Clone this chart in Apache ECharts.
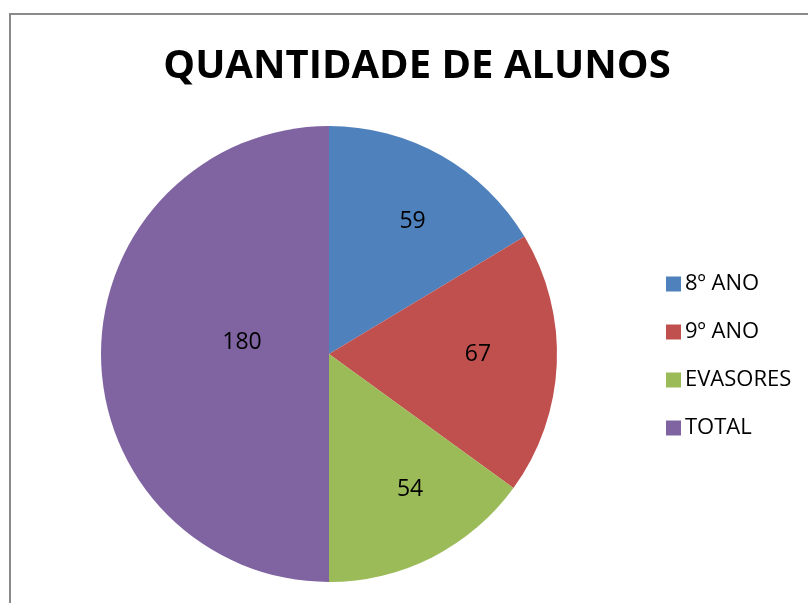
<!DOCTYPE html>
<html style="height: 100%">
<head>
    <meta charset="utf-8">
    <title>Quantidade de alunos</title>
    <style>
    body { margin: 0; background: #fff; }
    #container { width: 808px; height: 603px; }
    </style>
</head>
<body>
    <div id="container"></div>
    <script type="text/javascript" src="https://cdn.jsdelivr.net/npm/echarts@6/dist/echarts.min.js"></script>
    <script type="text/javascript">
    // dados
    var categorias = ['8º ANO', '9º ANO', 'EVASORES', 'TOTAL'];
    var valores = [59, 67, 54, 180];
    var cores = ['#4F81BD', '#C0504D', '#9BBB59', '#8064A2'];
    // deslocamento dos rotulos (estilo tipo Excel)
    var deslocRotulo = [[26, -31], [32, -5], [28, 31], [30, -12]];

    var dados = categorias.map(function (c, i) {
        return {
            name: c,
            value: valores[i],
            itemStyle: { color: cores[i] },
            label: { offset: deslocRotulo[i] }
        };
    });

    var myChart = echarts.init(document.getElementById('container'));
    var option = {
        animation: false,
        backgroundColor: '#fff',
        title: {
            text: 'QUANTIDADE DE ALUNOS',
            left: 412,
            textAlign: 'center',
            top: 42,
            textStyle: {
                fontFamily: 'Open Sans',
                fontWeight: 'bold',
                fontSize: 40,
                color: '#000'
            }
        },
        legend: {
            orient: 'vertical',
            left: 661,
            top: 268,
            itemWidth: 15,
            itemHeight: 15,
            itemGap: 26,
            icon: 'rect',
            textStyle: {
                fontFamily: 'Open Sans',
                fontSize: 22,
                color: '#000',
                padding: [0, 0, 0, -1]
            },
            data: categorias
        },
        graphic: [{
            type: 'rect',
            shape: { x: 10, y: 14, width: 810, height: 600 },
            style: { fill: 'none', stroke: '#8a8a8a', lineWidth: 2 },
            silent: true
        }],
        series: [{
            type: 'pie',
            center: [329, 354],
            radius: 228,
            startAngle: 90,
            clockwise: true,
            label: {
                show: true,
                position: 'inside',
                formatter: '{c}',
                fontFamily: 'Open Sans',
                fontSize: 23,
                color: '#000'
            },
            labelLine: { show: false },
            emphasis: { disabled: true },
            data: dados
        }]
    };
    myChart.setOption(option);
    </script>
</body>
</html>
